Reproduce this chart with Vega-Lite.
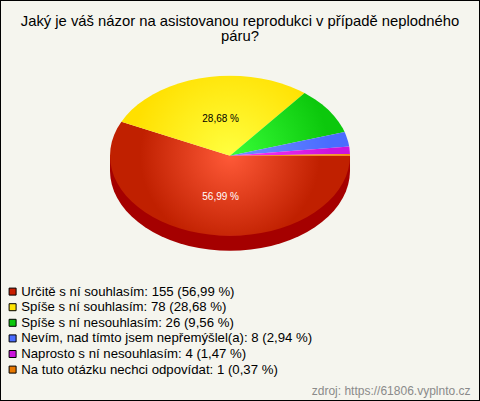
{
"$schema":"https://vega.github.io/schema/vega-lite/v6.json",
"width":480,"height":401,"padding":0,"autosize":"none","background":"#F5F5EE",
"view":{"stroke":"#000","strokeWidth":2,"fill":null},
"title":{"text":["Jaký je váš názor na asistovanou reprodukci v případě neplodného","páru?"],"anchor":"middle","frame":"group","font":"Liberation Sans","fontSize":14.8,"fontWeight":"normal","color":"#000","lineHeight":15,"baseline":"top","dy":44,"offset":0},
"datasets":{
"odpovedi":[
{"odpoved":"Určitě s ní souhlasím: 155 (56,99 %)","pocet":155,"podil":56.99},
{"odpoved":"Spíše s ní souhlasím: 78 (28,68 %)","pocet":78,"podil":28.68},
{"odpoved":"Spíše s ní nesouhlasím: 26 (9,56 %)","pocet":26,"podil":9.56},
{"odpoved":"Nevím, nad tímto jsem nepřemýšlel(a): 8 (2,94 %)","pocet":8,"podil":2.94},
{"odpoved":"Naprosto s ní nesouhlasím: 4 (1,47 %)","pocet":4,"podil":1.47},
{"odpoved":"Na tuto otázku nechci odpovídat: 1 (0,37 %)","pocet":1,"podil":0.37}],
"popisky":[
{"text":"56,99 %","x":-0.078,"y":-0.51,"c":"#fff"},
{"text":"28,68 %","x":-0.078,"y":0.455,"c":"#000"}],
"bok":[{"x":1,"y":0},{"x":1,"y":-0.1875},{"x":0.9962,"y":-0.2747},{"x":0.9848,"y":-0.3611},{"x":0.9659,"y":-0.4463},{"x":0.9397,"y":-0.5295},{"x":0.9063,"y":-0.6101},{"x":0.866,"y":-0.6875},{"x":0.8192,"y":-0.7611},{"x":0.766,"y":-0.8303},{"x":0.7071,"y":-0.8946},{"x":0.6428,"y":-0.9535},{"x":0.5736,"y":-1.0067},{"x":0.5,"y":-1.0535},{"x":0.4226,"y":-1.0938},{"x":0.342,"y":-1.1272},{"x":0.2588,"y":-1.1534},{"x":0.1736,"y":-1.1723},{"x":0.0872,"y":-1.1837},{"x":0,"y":-1.1875},{"x":-0.0872,"y":-1.1837},{"x":-0.1736,"y":-1.1723},{"x":-0.2588,"y":-1.1534},{"x":-0.342,"y":-1.1272},{"x":-0.4226,"y":-1.0938},{"x":-0.5,"y":-1.0535},{"x":-0.5736,"y":-1.0067},{"x":-0.6428,"y":-0.9535},{"x":-0.7071,"y":-0.8946},{"x":-0.766,"y":-0.8303},{"x":-0.8192,"y":-0.7611},{"x":-0.866,"y":-0.6875},{"x":-0.9063,"y":-0.6101},{"x":-0.9397,"y":-0.5295},{"x":-0.9659,"y":-0.4463},{"x":-0.9848,"y":-0.3611},{"x":-0.9962,"y":-0.2747},{"x":-1,"y":-0.1875},{"x":-1,"y":0}],
"cervena":[{"x":0,"y":0},{"x":1,"y":0},{"x":0.9962,"y":-0.0872},{"x":0.9848,"y":-0.1736},{"x":0.9659,"y":-0.2588},{"x":0.9397,"y":-0.342},{"x":0.9063,"y":-0.4226},{"x":0.866,"y":-0.5},{"x":0.8192,"y":-0.5736},{"x":0.766,"y":-0.6428},{"x":0.7071,"y":-0.7071},{"x":0.6428,"y":-0.766},{"x":0.5736,"y":-0.8192},{"x":0.5,"y":-0.866},{"x":0.4226,"y":-0.9063},{"x":0.342,"y":-0.9397},{"x":0.2588,"y":-0.9659},{"x":0.1736,"y":-0.9848},{"x":0.0872,"y":-0.9962},{"x":0,"y":-1},{"x":-0.0872,"y":-0.9962},{"x":-0.1736,"y":-0.9848},{"x":-0.2588,"y":-0.9659},{"x":-0.342,"y":-0.9397},{"x":-0.4226,"y":-0.9063},{"x":-0.5,"y":-0.866},{"x":-0.5736,"y":-0.8192},{"x":-0.6428,"y":-0.766},{"x":-0.7071,"y":-0.7071},{"x":-0.766,"y":-0.6428},{"x":-0.8192,"y":-0.5736},{"x":-0.866,"y":-0.5},{"x":-0.9063,"y":-0.4226},{"x":-0.9397,"y":-0.342},{"x":-0.9659,"y":-0.2588},{"x":-0.9848,"y":-0.1736},{"x":-0.9962,"y":-0.0872},{"x":-1,"y":0},{"x":-0.9962,"y":0.0872},{"x":-0.9848,"y":0.1736},{"x":-0.9659,"y":0.2588},{"x":-0.9397,"y":0.342},{"x":-0.9048,"y":0.4258}],
"zluta":[{"x":0,"y":0},{"x":-0.9048,"y":0.4258},{"x":-0.866,"y":0.5},{"x":-0.8192,"y":0.5736},{"x":-0.766,"y":0.6428},{"x":-0.7071,"y":0.7071},{"x":-0.6428,"y":0.766},{"x":-0.5736,"y":0.8192},{"x":-0.5,"y":0.866},{"x":-0.4226,"y":0.9063},{"x":-0.342,"y":0.9397},{"x":-0.2588,"y":0.9659},{"x":-0.1736,"y":0.9848},{"x":-0.0872,"y":0.9962},{"x":0,"y":1},{"x":0.0872,"y":0.9962},{"x":0.1736,"y":0.9848},{"x":0.2588,"y":0.9659},{"x":0.342,"y":0.9397},{"x":0.4226,"y":0.9063},{"x":0.5,"y":0.866},{"x":0.5736,"y":0.8192},{"x":0.6211,"y":0.7837}],
"zelena":[{"x":0,"y":0},{"x":0.6211,"y":0.7837},{"x":0.7071,"y":0.7071},{"x":0.766,"y":0.6428},{"x":0.8192,"y":0.5736},{"x":0.866,"y":0.5},{"x":0.9063,"y":0.4226},{"x":0.9397,"y":0.342},{"x":0.9553,"y":0.2957}],
"modra":[{"x":0,"y":0},{"x":0.9553,"y":0.2957},{"x":0.9659,"y":0.2588},{"x":0.9848,"y":0.1736},{"x":0.9934,"y":0.1149}],
"fialova":[{"x":0,"y":0},{"x":0.9934,"y":0.1149},{"x":0.9962,"y":0.0872},{"x":0.9997,"y":0.0227}],
"oranzova":[{"x":0,"y":0},{"x":0.9997,"y":0.0227},{"x":1,"y":0}]
},
"encoding":{
"x":{"field":"x","type":"quantitative","scale":{"domain":[-1.9167,2.0833],"nice":false,"zero":false},"axis":{"domain":false,"ticks":false,"labels":false,"grid":false,"title":"zdroj: https://61806.vyplnto.cz","titleFont":"Liberation Sans","titleFontSize":12,"titleFontWeight":"normal","titleColor":"#8a8a8a","titleAnchor":"end","titleAlign":"right","titleBaseline":"alphabetic","titleX":470,"titleY":-7}},
"y":{"field":"y","type":"quantitative","scale":{"domain":[-3.0663,1.9463],"nice":false,"zero":false},"axis":null},
"order":{"value":null}
},
"layer":[
{"data":{"name":"bok"},"mark":{"type":"line","fill":"#A50000","stroke":null}},
{"data":{"name":"cervena"},"mark":{"type":"line","stroke":null,"fill":{"gradient":"radial","x1":0.5,"y1":0.4035,"r1":0,"x2":0.5,"y2":0.4035,"r2":0.375,"stops":[{"offset":0,"color":"#FF5A38"},{"offset":1,"color":"#C02000"}]}}},
{"data":{"name":"zluta"},"mark":{"type":"line","stroke":null,"fill":{"gradient":"radial","x1":0.593,"y1":0.7186,"r1":0,"x2":0.593,"y2":0.7186,"r2":0.546,"stops":[{"offset":0,"color":"#FFFF40"},{"offset":1,"color":"#FFE000"}]}}},
{"data":{"name":"zelena"},"mark":{"type":"line","stroke":null,"fill":{"gradient":"radial","x1":0,"y1":0.7736,"r1":0,"x2":0,"y2":0.7736,"r2":0.873,"stops":[{"offset":0,"color":"#38FF38"},{"offset":1,"color":"#0CC80C"}]}}},
{"data":{"name":"modra"},"mark":{"type":"line","stroke":null,"fill":{"gradient":"radial","x1":0,"y1":0.599,"r1":0,"x2":0,"y2":0.599,"r2":0.839,"stops":[{"offset":0,"color":"#7090FF"},{"offset":1,"color":"#4A6CFF"}]}}},
{"data":{"name":"fialova"},"mark":{"type":"line","stroke":null,"fill":{"gradient":"radial","x1":0,"y1":0.538,"r1":0,"x2":0,"y2":0.538,"r2":0.833,"stops":[{"offset":0,"color":"#FF38FF"},{"offset":1,"color":"#CC14DC"}]}}},
{"data":{"name":"oranzova"},"mark":{"type":"line","stroke":null,"fill":"#F59000"}},
{"data":{"name":"popisky"},"mark":{"type":"text","font":"Liberation Sans","fontSize":10,"align":"center","baseline":"middle"},"encoding":{"text":{"field":"text"},"color":{"field":"c","type":"nominal","scale":null}}},
{"data":{"name":"odpovedi"},"mark":{"type":"square","size":0,"filled":true},"encoding":{"x":{"value":240},"y":{"value":200},"color":{"field":"odpoved","type":"nominal","scale":{"domain":["Určitě s ní souhlasím: 155 (56,99 %)","Spíše s ní souhlasím: 78 (28,68 %)","Spíše s ní nesouhlasím: 26 (9,56 %)","Nevím, nad tímto jsem nepřemýšlel(a): 8 (2,94 %)","Naprosto s ní nesouhlasím: 4 (1,47 %)","Na tuto otázku nechci odpovídat: 1 (0,37 %)"],"range":["#C81E00","#FFE400","#0CC80C","#4A6CFF","#CC14DC","#E87800"]},"legend":{"title":null,"orient":"none","legendX":6,"legendY":285,"symbolType":"square","symbolSize":49,"symbolStrokeColor":"#000","symbolStrokeWidth":1,"symbolOpacity":1,"labelFont":"Liberation Sans","labelFontSize":13.2,"labelColor":"#000","labelLimit":460,"labelOffset":2,"rowPadding":1.6,"padding":0}}}}
]
}
